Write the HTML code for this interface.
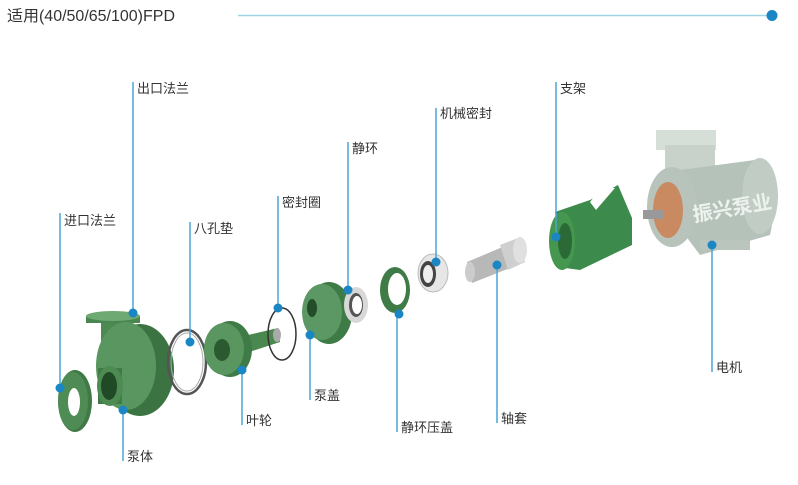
<!DOCTYPE html>
<html><head><meta charset="utf-8"><style>
html,body{margin:0;padding:0;background:#fff;}
svg{display:block;}
text{font-family:"Liberation Sans","Noto Sans CJK SC",sans-serif;fill:#333;}
</style></head><body>
<svg width="798" height="485" viewBox="0 0 798 485" xmlns="http://www.w3.org/2000/svg">
<rect width="798" height="485" fill="#fff"/>
<text x="7" y="21" font-size="15.5" textLength="168" lengthAdjust="spacingAndGlyphs">适用(40/50/65/100)FPD</text>
<line x1="238" y1="15.5" x2="772" y2="15.5" stroke="#9fd4e6" stroke-width="1.5"/>
<circle cx="772" cy="15.5" r="5.5" fill="#1a86c4"/>

<!-- inlet flange -->
<ellipse cx="75" cy="401" rx="17" ry="31" fill="#3f7a46"/>
<ellipse cx="73" cy="401" rx="15" ry="29" fill="#4f8c55"/>
<ellipse cx="74" cy="402" rx="6" ry="14" fill="#fff"/>
<!-- pump body -->
<rect x="101" y="318" width="24" height="40" fill="#4c8a52"/>
<rect x="86" y="316" width="54" height="7" fill="#4b8650"/>
<ellipse cx="113" cy="316" rx="27" ry="5" fill="#6ea873"/>
<ellipse cx="140" cy="370" rx="34" ry="46" fill="#3b7442"/>
<ellipse cx="126" cy="366" rx="30" ry="44" fill="#5a9660"/>
<rect x="98" y="368" width="24" height="36" fill="#3f7c45"/>
<ellipse cx="110" cy="386" rx="13" ry="20" fill="#4d8b53"/>
<ellipse cx="109" cy="386" rx="8" ry="14" fill="#1f4a25"/>
<!-- gasket -->
<ellipse cx="187" cy="362" rx="19" ry="32" fill="none" stroke="#555" stroke-width="2.5"/>
<ellipse cx="187" cy="362" rx="16" ry="29" fill="none" stroke="#aaa" stroke-width="1"/>
<!-- impeller -->
<polygon points="235,338 278,328 280,342 237,356" fill="#4a8850"/>
<ellipse cx="277" cy="335" rx="4" ry="7" fill="#aaa"/>
<ellipse cx="230" cy="349" rx="22" ry="28" fill="#3f7b46"/>
<ellipse cx="224" cy="349" rx="20" ry="26" fill="#5a9660"/>
<ellipse cx="222" cy="350" rx="8" ry="11" fill="#2b5a31"/>
<!-- o-ring -->
<ellipse cx="282" cy="334" rx="14" ry="26" fill="none" stroke="#333" stroke-width="1.5"/>
<!-- pump cover -->
<ellipse cx="329" cy="313" rx="23" ry="31" fill="#3f7b46"/>
<ellipse cx="322" cy="312" rx="20" ry="28" fill="#5c9863"/>
<ellipse cx="312" cy="308" rx="5" ry="9" fill="#234d29"/>
<!-- static ring -->
<ellipse cx="356" cy="305" rx="12" ry="18" fill="#d8d8d8"/>
<ellipse cx="356" cy="305" rx="7" ry="12" fill="#555"/>
<ellipse cx="357" cy="305" rx="5" ry="9" fill="#fff"/>
<!-- gland -->
<ellipse cx="395" cy="290" rx="15" ry="23" fill="#3f7b46"/>
<ellipse cx="397" cy="289" rx="9" ry="16" fill="#fff"/>
<!-- mech seal -->
<ellipse cx="433" cy="273" rx="15" ry="19" fill="#e6e6e6" stroke="#bbb"/>
<ellipse cx="428" cy="274" rx="8" ry="13" fill="#444"/>
<ellipse cx="428" cy="274" rx="5" ry="9" fill="#eee"/>
<!-- shaft sleeve -->
<polygon points="467,262 505,246 510,268 472,283" fill="#b8b8b8"/>
<ellipse cx="470" cy="272" rx="5" ry="10" fill="#ccc"/>
<polygon points="500,245 518,238 525,262 508,270" fill="#cfcfcf"/>
<ellipse cx="520" cy="250" rx="7" ry="13" fill="#e0e0e0"/>
<!-- bracket -->
<polygon points="555,212 590,200 618,185 632,218 632,245 580,270 565,268" fill="#3c8a4c"/>
<polygon points="590,202 602,187 615,188 596,210" fill="#fff"/>
<ellipse cx="562" cy="241" rx="13" ry="29" fill="#45964f"/>
<ellipse cx="565" cy="241" rx="7" ry="18" fill="#2b6a36"/>
<!-- motor -->
<rect x="656" y="130" width="60" height="20" fill="#d6ded8"/>
<rect x="665" y="145" width="50" height="40" fill="#c8d2cb"/>
<polygon points="680,170 755,160 778,195 770,235 700,255 670,215" fill="#b5c2ba"/>
<ellipse cx="760" cy="196" rx="18" ry="38" fill="#c0ccc4"/>
<ellipse cx="672" cy="207" rx="25" ry="40" fill="#b8c4bb"/>
<ellipse cx="668" cy="210" rx="15" ry="28" fill="#c98a62"/>
<rect x="643" y="210" width="20" height="9" fill="#999"/>
<rect x="700" y="240" width="50" height="10" fill="#b9c5bd"/>
<text x="694" y="222" font-size="20" font-weight="bold" style="fill:#eef2ef" transform="rotate(-10 694 222)">振兴泵业</text>

<!-- callouts -->
<g stroke="#4aa5d6" stroke-width="1.5" fill="none">
<line x1="60" y1="213" x2="60" y2="388"/>
<line x1="133" y1="82" x2="133" y2="313"/>
<line x1="190" y1="222" x2="190" y2="342"/>
<line x1="278" y1="196" x2="278" y2="308"/>
<line x1="348" y1="142" x2="348" y2="290"/>
<line x1="436" y1="108" x2="436" y2="262"/>
<line x1="556" y1="82" x2="556" y2="237"/>
<line x1="712" y1="245" x2="712" y2="372"/>
<line x1="497" y1="265" x2="497" y2="423"/>
<line x1="397" y1="314" x2="397" y2="432"/>
<line x1="310" y1="335" x2="310" y2="400"/>
<line x1="242" y1="370" x2="242" y2="425"/>
<line x1="123" y1="410" x2="123" y2="461"/>
</g>
<g fill="#1a86c4">
<circle cx="60" cy="388" r="4.5"/><circle cx="133" cy="313" r="4.5"/>
<circle cx="190" cy="342" r="4.5"/><circle cx="278" cy="308" r="4.5"/>
<circle cx="348" cy="290" r="4.5"/><circle cx="436" cy="262" r="4.5"/>
<circle cx="556" cy="237" r="4.5"/><circle cx="712" cy="245" r="4.5"/>
<circle cx="497" cy="265" r="4.5"/><circle cx="399" cy="314" r="4.5"/>
<circle cx="310" cy="335" r="4.5"/><circle cx="242" cy="370" r="4.5"/>
<circle cx="123" cy="410" r="4.5"/>
</g>
<g font-size="13">
<text x="64" y="225">进口法兰</text>
<text x="137" y="93">出口法兰</text>
<text x="194" y="233">八孔垫</text>
<text x="282" y="207">密封圈</text>
<text x="352" y="153">静环</text>
<text x="440" y="118">机械密封</text>
<text x="560" y="93">支架</text>
<text x="716" y="372">电机</text>
<text x="501" y="423">轴套</text>
<text x="401" y="432">静环压盖</text>
<text x="314" y="400">泵盖</text>
<text x="246" y="425">叶轮</text>
<text x="127" y="461">泵体</text>
</g>
</svg>
</body></html>
